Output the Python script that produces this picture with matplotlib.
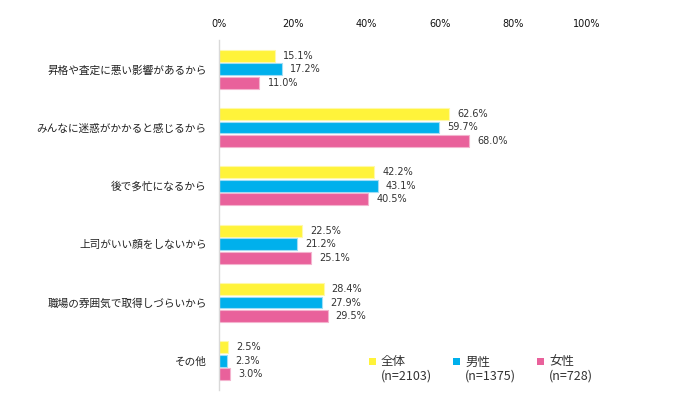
import matplotlib
matplotlib.use("Agg")
import matplotlib.pyplot as plt
import numpy as np
from matplotlib.patches import Rectangle

plt.rcParams['font.family'] = ['Noto Sans CJK JP', 'DejaVu Sans']

categories = ["昇格や査定に悪い影響があるから", "みんなに迷惑がかかると感じるから", "後で多忙になるから",
              "上司がいい顔をしないから", "職場の雰囲気で取得しづらいから", "その他"]
series_names = ["全体", "男性", "女性"]
series_n = ["(n=2103)", "(n=1375)", "(n=728)"]
all_vals = [15.1, 62.6, 42.2, 22.5, 28.4, 2.5]
male_vals = [17.2, 59.7, 43.1, 21.2, 27.9, 2.3]
female_vals = [11.0, 68.0, 40.5, 25.1, 29.5, 3.0]
xticks = [0, 20, 40, 60, 80, 100]
xtick_labels = ["0%", "20%", "40%", "60%", "80%", "100%"]

colors = ["#FFF33A", "#00B0EC", "#E9619B"]
edges = ["#FFF9A8", "#9FDDF5", "#F4B3CE"]

W, H = 683, 397
fig = plt.figure(figsize=(W/100, H/100), dpi=100)
ax = fig.add_axes([219/W, 1-390/H, (587-219)/W, 350/H])

y = np.arange(len(categories))
h = 0.205
pitch = 0.232
for i, vals in enumerate([all_vals, male_vals, female_vals]):
    pos = y + (i - 1) * pitch
    ax.barh(pos, vals, height=h, color=colors[i], edgecolor=edges[i], linewidth=0.8, zorder=2)
    for p, v in zip(pos, vals):
        ax.text(v + 2.2, p, f"{v:.1f}%", va='center', ha='left', fontsize=7, color='#333333',
                family=['DejaVu Sans'])

ax.set_xlim(0, 100)
ax.set_ylim(5.5, -0.5)
ax.set_yticks(y)
ax.set_yticklabels(categories, fontsize=7.7, color='#222222')
ax.xaxis.tick_top()
ax.set_xticks(xticks)
ax.set_xticklabels(xtick_labels, fontsize=7, family=['DejaVu Sans'], color='#111111')
ax.tick_params(axis='both', length=0, pad=8)
ax.tick_params(axis='y', pad=9)
for s in ['top', 'right', 'bottom']:
    ax.spines[s].set_visible(False)
ax.spines['left'].set_color('#D9D9D9')
ax.spines['left'].set_linewidth(1)

# manual legend
sq_x = [369, 453, 537]
for i in range(3):
    fig.patches.append(Rectangle((sq_x[i]/W, 1-365/H), 7/W, 7/H, transform=fig.transFigure,
                                 facecolor=colors[i], edgecolor='none'))
    fig.text((sq_x[i]+12)/W, 1-362/H, series_names[i], ha='left', va='center', fontsize=9,
             color='#333333')
    fig.text((sq_x[i]+12)/W, 1-376/H, series_n[i], ha='left', va='center', fontsize=9,
             color='#333333')

fig.savefig("out.png", dpi=100)
